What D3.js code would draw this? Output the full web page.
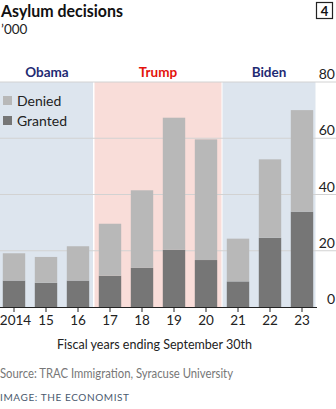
<!DOCTYPE html>
<html><head><meta charset="utf-8">
<script src="https://cdn.jsdelivr.net/npm/d3@7"></script>
<style>body{margin:0;background:#fff;} svg{display:block;font-family:Lato, "Open Sans", sans-serif;}</style>
</head><body><svg id="c" width="336" height="409"></svg>
<script>
const years = ["2014","15","16","17","18","19","20","21","22","23"];
const granted = [9.4, 8.6, 9.4, 11.1, 13.9, 20.3, 16.7, 9.1, 24.6, 33.9];
const total = [19.1, 17.8, 21.6, 29.6, 41.5, 67.3, 59.6, 24.3, 52.5, 70.0];
const denied = total.map((t,i)=>+(t-granted[i]).toFixed(1));
const yTicks = [0,20,40,60,80];
const periods = [
  {name:"Obama", from:"2014", to:"16", bg:"#dde5ee", color:"#1f2b73"},
  {name:"Trump", from:"17", to:"20", bg:"#f9ddd9", color:"#e3120b"},
  {name:"Biden", from:"21", to:"23", bg:"#dde5ee", color:"#1f2b73"}
];
const legendItems = [{label:"Denied", color:"#b8b8b8"},{label:"Granted", color:"#767676"}];

const svg = d3.select("#c");
const x = d3.scaleBand().domain(years).range([-2,318]).paddingInner(0.3).paddingOuter(0.15);
const y = d3.scaleLinear().domain([0,80]).range([307,82]);
const plotRight = 316;

// period backgrounds
const step = x.step();
periods.forEach(p=>{
  const x0 = Math.max(0, x(p.from) - step*x.paddingInner()/2);
  const x1 = Math.min(plotRight, x(p.to) + x.bandwidth() + step*x.paddingInner()/2);
  svg.append("rect").attr("x", x0 + (p.from==="2014"?0:0.5)).attr("y", y(80))
    .attr("width", x1 - x0 - 1).attr("height", y(0)-y(80)).attr("fill", p.bg);
  svg.append("text").attr("x",(x0+x1)/2).attr("y",77).attr("text-anchor","middle")
    .attr("font-weight","bold").attr("font-size",13.5).attr("fill",p.color).text(p.name);
});

// gridlines
svg.append("g").selectAll("line").data(yTicks.filter(d=>d>0)).join("line")
  .attr("x1",0).attr("x2",336).attr("y1",d=>y(d)).attr("y2",d=>y(d))
  .attr("stroke","#d2d2d2").attr("stroke-width",1);

// y labels
svg.append("g").selectAll("text").data(yTicks).join("text")
  .attr("x",335).attr("y",d=>y(d)-3).attr("text-anchor","end").attr("font-size",14).attr("fill","#222").text(d=>d);

// stacked bars
const stackData = years.map((yr,i)=>({year:yr, granted:granted[i], denied:denied[i]}));
const series = d3.stack().keys(["granted","denied"])(stackData);
const colors = {granted:"#767676", denied:"#b8b8b8"};
svg.append("g").selectAll("g").data(series).join("g").attr("fill",s=>colors[s.key])
  .selectAll("rect").data(s=>s).join("rect")
  .attr("x",d=>x(d.data.year)).attr("width",x.bandwidth())
  .attr("y",d=>y(d[1])).attr("height",d=>y(d[0])-y(d[1]));

// x axis
const xAxis = d3.axisBottom(x).tickSize(5).tickPadding(3);
const gx = svg.append("g").attr("transform",`translate(0,${y(0)})`).call(xAxis);
gx.select(".domain").remove();
gx.selectAll(".tick line").attr("stroke","#222");
gx.selectAll(".tick text").attr("font-size",13.5).attr("fill","#222").attr("font-family","Lato, sans-serif")
  .attr("dx",(d,i)=>i===0?1.5:0);
svg.append("line").attr("x1",0).attr("x2",plotRight+1).attr("y1",y(0)+0.5).attr("y2",y(0)+0.5)
  .attr("stroke","#222").attr("stroke-width",1);

// legend
const lg = svg.append("g");
legendItems.forEach((it,i)=>{
  lg.append("rect").attr("x",3).attr("y",96+i*20).attr("width",9).attr("height",9).attr("fill",it.color);
  lg.append("text").attr("x",17).attr("y",105.5+i*20).attr("font-size",14).attr("fill","#222").text(it.label);
});

// titles
svg.append("text").attr("x",1).attr("y",17).attr("font-weight","bold").attr("font-size",17.5)
  .attr("textLength",122).attr("lengthAdjust","spacingAndGlyphs").attr("fill","#111").text("Asylum decisions");
svg.append("text").attr("x",1).attr("y",34).attr("font-size",13.5).attr("fill","#222").text("’000");
svg.append("rect").attr("x",316.5).attr("y",2.5).attr("width",16).attr("height",16).attr("fill","none").attr("stroke","#222").attr("stroke-width",1.2);
svg.append("text").attr("x",324.5).attr("y",15.5).attr("text-anchor","middle").attr("font-weight","bold").attr("font-size",13).attr("fill","#111").text("4");

svg.append("text").attr("x",57).attr("y",349).attr("font-size",14)
  .attr("textLength",195).attr("lengthAdjust","spacingAndGlyphs").attr("fill","#222").text("Fiscal years ending September 30th");
svg.append("text").attr("x",0).attr("y",378).attr("font-size",12.5)
  .attr("textLength",233).attr("lengthAdjust","spacingAndGlyphs").attr("fill","#777").text("Source: TRAC Immigration, Syracuse University");
svg.append("text").attr("x",0).attr("y",401).attr("font-size",10).attr("letter-spacing",0.6).attr("fill","#4a5a6e").text("IMAGE: THE ECONOMIST");
</script></body></html>
